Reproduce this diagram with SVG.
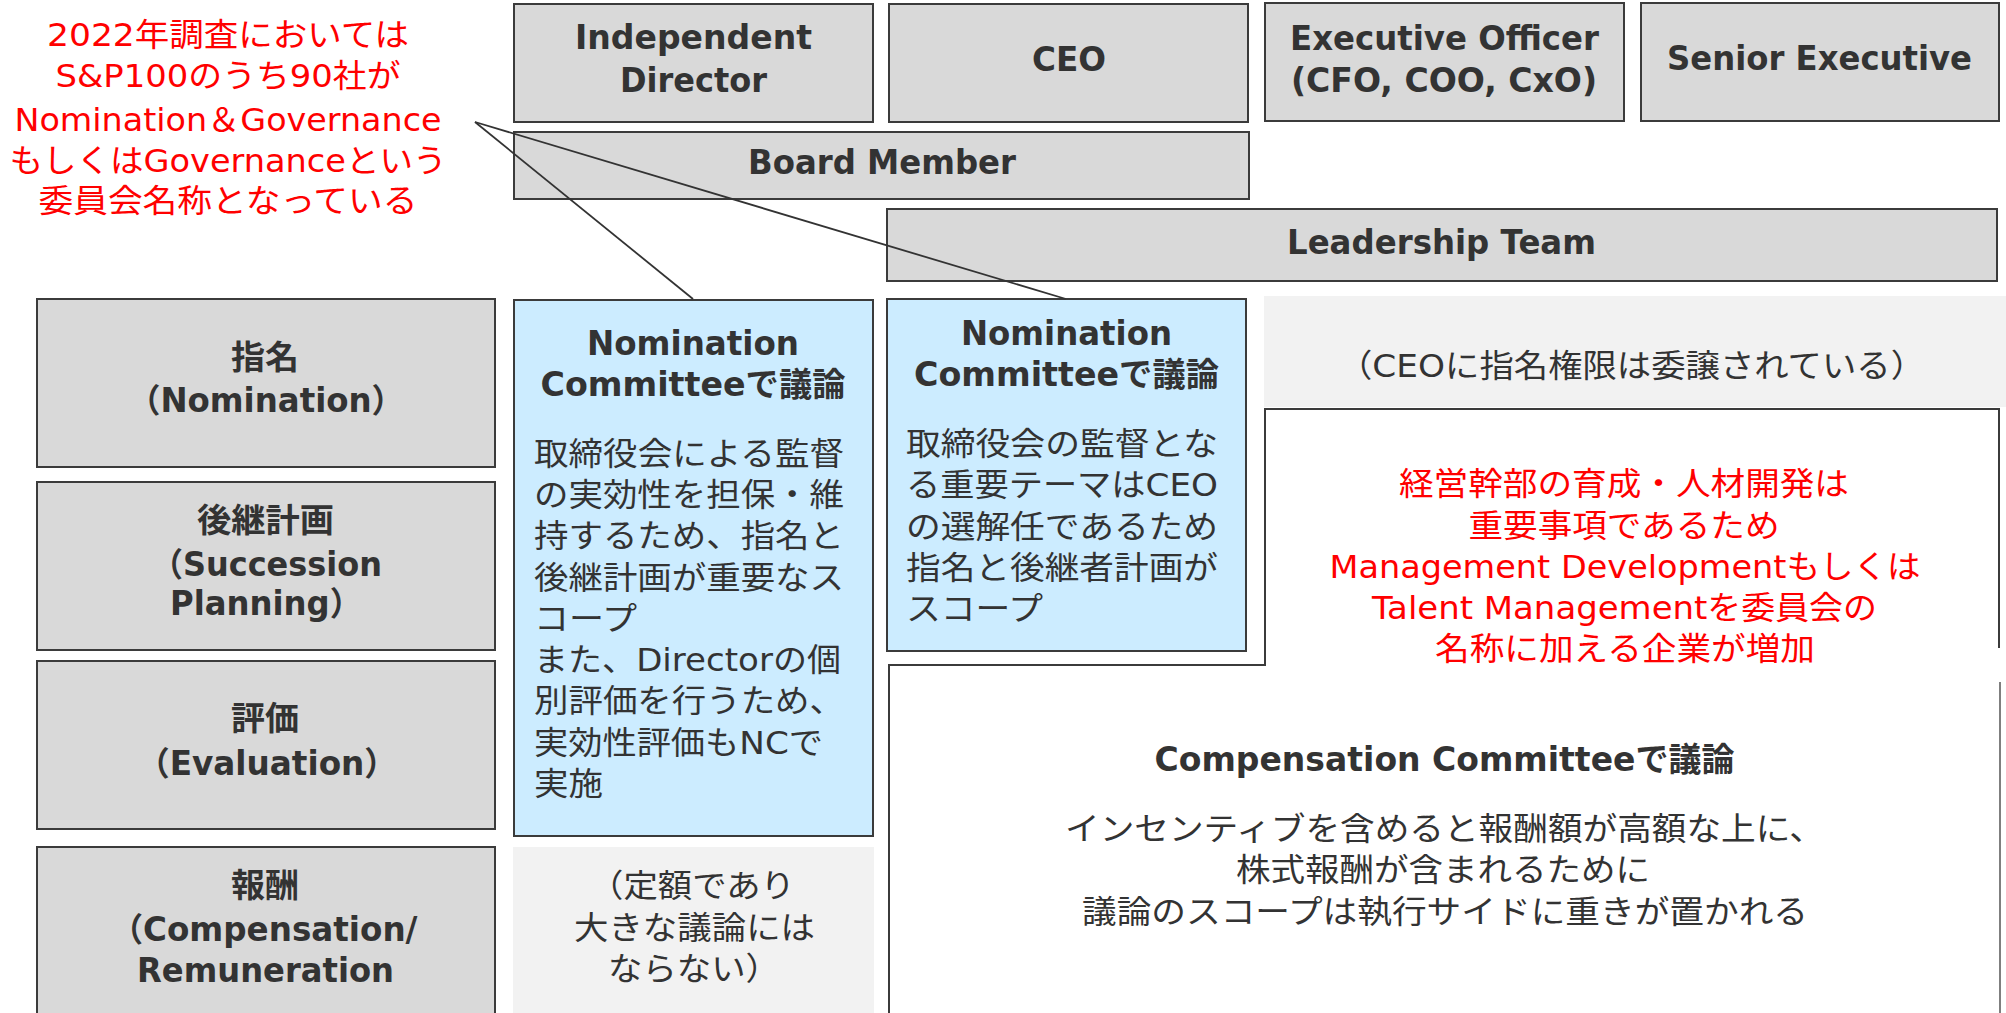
<svg xmlns="http://www.w3.org/2000/svg" width="2006" height="1013" viewBox="0 0 2006 1013">
  <style>
    .box { fill: #D9D9D9; stroke: #3B3B3B; stroke-width: 2; }
    .blue { fill: #CCECFF; stroke: #3B3B3B; stroke-width: 2; }
    .pale { fill: #F2F2F2; }
    .outline { fill: none; stroke: #3B3B3B; stroke-width: 2; }
    .link { fill: none; stroke: #333333; stroke-width: 1.8; }
    text { font-family: "DejaVu Sans", "Noto Sans CJK JP", sans-serif; fill: #333333; }
    .b { font-weight: bold; font-size: 33px; }
    .r { font-size: 32px; }
    .red { fill: #FF0000; }
    .c { text-anchor: middle; }
  </style>

  <rect width="2006" height="1013" fill="#FFFFFF"/>

  <!-- note in the upper-left corner -->
  <g id="note-committee-names">
    <text class="r red c" x="228" y="46" textLength="362" lengthAdjust="spacingAndGlyphs">2022年調査においては</text>
    <text class="r red c" x="228" y="87" textLength="345" lengthAdjust="spacingAndGlyphs">S&amp;P100のうち90社が</text>
    <text class="r red c" x="228" y="131" textLength="427" lengthAdjust="spacingAndGlyphs">Nomination＆Governance</text>
    <text class="r red c" x="228" y="172" textLength="437" lengthAdjust="spacingAndGlyphs">もしくはGovernanceという</text>
    <text class="r red c" x="228" y="212" textLength="379" lengthAdjust="spacingAndGlyphs">委員会名称となっている</text>
  </g>

  <!-- role headers -->
  <g id="independent-director">
    <rect class="box" x="514" y="4" width="359" height="118"/>
    <text class="b c" x="693.5" y="49" textLength="237" lengthAdjust="spacingAndGlyphs">Independent</text>
    <text class="b c" x="693.5" y="92" textLength="147" lengthAdjust="spacingAndGlyphs">Director</text>
  </g>
  <g id="ceo">
    <rect class="box" x="889" y="4" width="359" height="118"/>
    <text class="b c" x="1069" y="71" textLength="74" lengthAdjust="spacingAndGlyphs">CEO</text>
  </g>
  <g id="executive-officer">
    <rect class="box" x="1265" y="3" width="359" height="118"/>
    <text class="b c" x="1444.5" y="50" textLength="309" lengthAdjust="spacingAndGlyphs">Executive Officer</text>
    <text class="b c" x="1444" y="92" textLength="306" lengthAdjust="spacingAndGlyphs">(CFO, COO, CxO)</text>
  </g>
  <g id="senior-executive">
    <rect class="box" x="1641" y="3" width="358" height="118"/>
    <text class="b c" x="1819.5" y="70" textLength="305" lengthAdjust="spacingAndGlyphs">Senior Executive</text>
  </g>
  <g id="board-member">
    <rect class="box" x="514" y="132" width="735" height="67"/>
    <text class="b c" x="882" y="174" textLength="268" lengthAdjust="spacingAndGlyphs">Board Member</text>
  </g>
  <g id="leadership-team">
    <rect class="box" x="887" y="209" width="1110" height="72"/>
    <text class="b c" x="1441.5" y="254" textLength="309" lengthAdjust="spacingAndGlyphs">Leadership Team</text>
  </g>

  <!-- topic rows -->
  <g id="row-nomination">
    <rect class="box" x="37" y="299" width="458" height="168"/>
    <text class="b c" x="265" y="369" textLength="68" lengthAdjust="spacingAndGlyphs">指名</text>
    <text class="b c" x="266" y="412" textLength="276" lengthAdjust="spacingAndGlyphs">（Nomination）</text>
  </g>
  <g id="row-succession">
    <rect class="box" x="37" y="482" width="458" height="168"/>
    <text class="b c" x="265.5" y="532" textLength="137" lengthAdjust="spacingAndGlyphs">後継計画</text>
    <text class="b c" x="266.5" y="576" textLength="231" lengthAdjust="spacingAndGlyphs">（Succession</text>
    <text class="b c" x="266" y="615" textLength="192" lengthAdjust="spacingAndGlyphs">Planning）</text>
  </g>
  <g id="row-evaluation">
    <rect class="box" x="37" y="661" width="458" height="168"/>
    <text class="b c" x="265" y="730" textLength="68" lengthAdjust="spacingAndGlyphs">評価</text>
    <text class="b c" x="267" y="775" textLength="260" lengthAdjust="spacingAndGlyphs">（Evaluation）</text>
  </g>
  <g id="row-compensation">
    <rect class="box" x="37" y="847" width="458" height="180"/>
    <text class="b c" x="265" y="897" textLength="68" lengthAdjust="spacingAndGlyphs">報酬</text>
    <text class="b c" x="264" y="941" textLength="307" lengthAdjust="spacingAndGlyphs">（Compensation/</text>
    <text class="b c" x="265.5" y="982" textLength="257" lengthAdjust="spacingAndGlyphs">Remuneration</text>
  </g>

  <!-- independent director: nomination committee -->
  <g id="nc-director">
    <rect class="blue" x="514" y="300" width="359" height="536"/>
    <text class="b c" x="693" y="355" textLength="212" lengthAdjust="spacingAndGlyphs">Nomination</text>
    <text class="b c" x="693" y="396" textLength="305" lengthAdjust="spacingAndGlyphs">Committeeで議論</text>
    <text class="r" x="534" y="465" textLength="310" lengthAdjust="spacingAndGlyphs">取締役会による監督</text>
    <text class="r" x="534" y="506" textLength="310" lengthAdjust="spacingAndGlyphs">の実効性を担保・維</text>
    <text class="r" x="534" y="547" textLength="310" lengthAdjust="spacingAndGlyphs">持するため、指名と</text>
    <text class="r" x="534" y="589" textLength="310" lengthAdjust="spacingAndGlyphs">後継計画が重要なス</text>
    <text class="r" x="534" y="630" textLength="103" lengthAdjust="spacingAndGlyphs">コープ</text>
    <text class="r" x="534" y="671" textLength="307" lengthAdjust="spacingAndGlyphs">また、Directorの個</text>
    <text class="r" x="534" y="712" textLength="310" lengthAdjust="spacingAndGlyphs">別評価を行うため、</text>
    <text class="r" x="534" y="754" textLength="289" lengthAdjust="spacingAndGlyphs">実効性評価もNCで</text>
    <text class="r" x="534" y="795" textLength="69" lengthAdjust="spacingAndGlyphs">実施</text>
  </g>

  <!-- CEO: nomination committee -->
  <g id="nc-ceo">
    <rect class="blue" x="887" y="299" width="359" height="352"/>
    <text class="b c" x="1066.5" y="345" textLength="211" lengthAdjust="spacingAndGlyphs">Nomination</text>
    <text class="b c" x="1066.5" y="386" textLength="305" lengthAdjust="spacingAndGlyphs">Committeeで議論</text>
    <text class="r" x="906" y="455" textLength="312" lengthAdjust="spacingAndGlyphs">取締役会の監督とな</text>
    <text class="r" x="906" y="496" textLength="312" lengthAdjust="spacingAndGlyphs">る重要テーマはCEO</text>
    <text class="r" x="906" y="538" textLength="312" lengthAdjust="spacingAndGlyphs">の選解任であるため</text>
    <text class="r" x="906" y="579" textLength="312" lengthAdjust="spacingAndGlyphs">指名と後継者計画が</text>
    <text class="r" x="906" y="620" textLength="137" lengthAdjust="spacingAndGlyphs">スコープ</text>
  </g>

  <!-- delegated nomination authority -->
  <g id="delegated-nomination">
    <rect class="pale" x="1264" y="296" width="742" height="111"/>
    <text class="r c" x="1631.5" y="377" textLength="587" lengthAdjust="spacingAndGlyphs">（CEOに指名権限は委譲されている）</text>
  </g>

  <!-- compensation committee area -->
  <g id="compensation-committee">
    <path d="M889,1020 V665 H1265 V409 H2000 V1020 Z" fill="#FFFFFF"/>
    <path class="outline" d="M889,1020 V665 H1265 V409 H1999 V648"/>
    <path d="M2000,682 V1020" fill="none" stroke="#555555" stroke-width="1.5"/>
    <text class="r red c" x="1624" y="495" textLength="450" lengthAdjust="spacingAndGlyphs">経営幹部の育成・人材開発は</text>
    <text class="r red c" x="1624" y="537" textLength="311" lengthAdjust="spacingAndGlyphs">重要事項であるため</text>
    <text class="r red c" x="1625" y="578" textLength="591" lengthAdjust="spacingAndGlyphs">Management Developmentもしくは</text>
    <text class="r red c" x="1624.5" y="619" textLength="505" lengthAdjust="spacingAndGlyphs">Talent Managementを委員会の</text>
    <text class="r red c" x="1625" y="660" textLength="380" lengthAdjust="spacingAndGlyphs">名称に加える企業が増加</text>
    <text class="b c" x="1444.5" y="771" textLength="580" lengthAdjust="spacingAndGlyphs">Compensation Committeeで議論</text>
    <text class="r c" x="1444.5" y="840" textLength="759" lengthAdjust="spacingAndGlyphs">インセンティブを含めると報酬額が高額な上に、</text>
    <text class="r c" x="1443" y="881" textLength="414" lengthAdjust="spacingAndGlyphs">株式報酬が含まれるために</text>
    <text class="r c" x="1445" y="923" textLength="726" lengthAdjust="spacingAndGlyphs">議論のスコープは執行サイドに重きが置かれる</text>
  </g>

  <!-- director compensation -->
  <g id="director-compensation">
    <rect class="pale" x="513" y="847" width="361" height="180"/>
    <text class="r c" x="692" y="897" textLength="206" lengthAdjust="spacingAndGlyphs">（定額であり</text>
    <text class="r c" x="694.5" y="939" textLength="241" lengthAdjust="spacingAndGlyphs">大きな議論には</text>
    <text class="r c" x="694" y="980" textLength="172" lengthAdjust="spacingAndGlyphs">ならない）</text>
  </g>

  <!-- callout lines from the note to both nomination committees -->
  <g id="connectors">
    <line class="link" x1="475" y1="122" x2="693" y2="299"/>
    <line class="link" x1="475" y1="122" x2="1066" y2="299"/>
  </g>
</svg>
